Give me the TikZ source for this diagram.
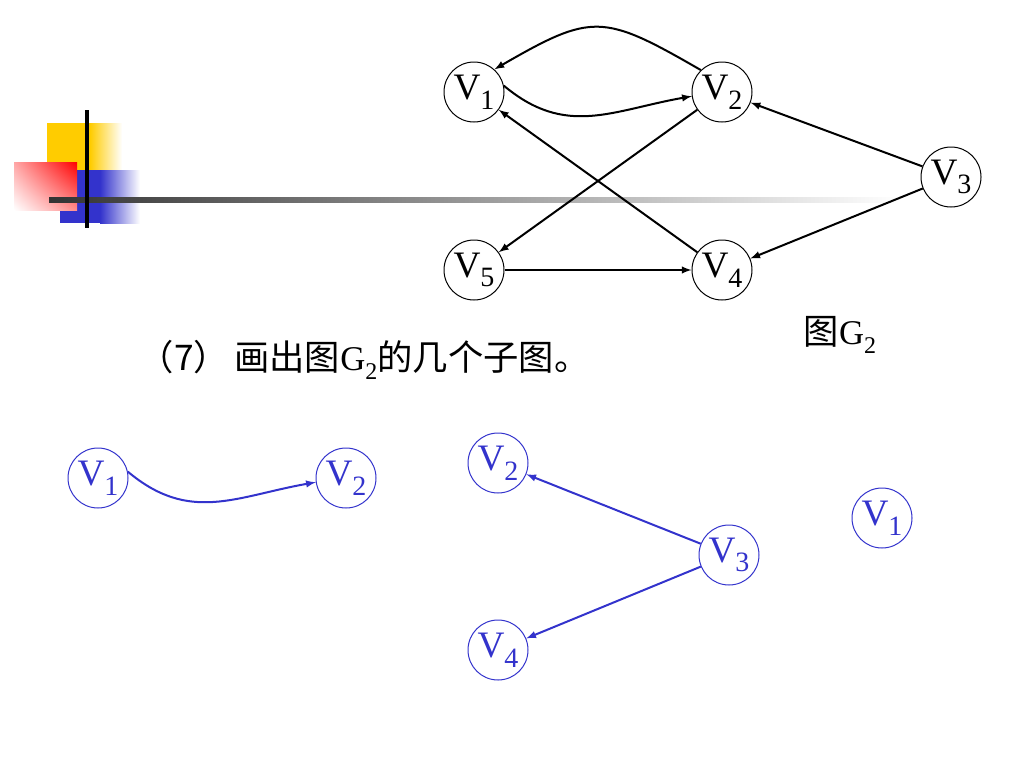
\documentclass[tikz,border=0pt]{standalone}
\usepackage{fontspec}
\setmainfont{Liberation Serif}
\newfontfamily\cjk{Noto Sans CJK SC}
\usetikzlibrary{arrows,shadings}

\definecolor{deckyellow}{RGB}{255,204,0}
\definecolor{deckblue}{RGB}{51,51,204}
\definecolor{subblue}{RGB}{51,51,204}

\newcommand{\vname}[1]{V\raisebox{-0.26em}{\fontsize{21}{21}\selectfont #1}}
\newcommand{\gname}{G\raisebox{-0.28em}{\fontsize{18}{18}\selectfont 2}}
\newcommand{\cjktext}[1]{{\cjk\fontsize{26.5}{28}\selectfont #1}}

\tikzset{
  vert/.style={circle,draw,line width=0.75pt,minimum size=45pt,inner sep=0pt,font=\fontsize{28}{28}\selectfont},
  edge/.style={-latex,line width=1.5pt},
  subvert/.style={vert,draw=subblue,text=subblue},
  subedge/.style={edge,color=subblue}
}

\begin{document}
\begin{tikzpicture}[x=0.75pt,y=0.75pt]
\useasboundingbox (0,0) rectangle (1024,-768);
% corner mark
\fill[deckyellow] (47,-123) rectangle (90,-200);
\shade[left color=deckyellow,right color=white] (90,-123) rectangle (122,-200);
\fill[deckblue] (60,-170) rectangle (100,-223);
\shade[left color=deckblue,right color=white] (100,-170) rectangle (140,-223);
\shade[upper left=red!35,upper right=red,lower left=white,lower right=red!45] (14,-162) rectangle (77,-210);
\shade[left color=black!80,right color=white] (49,-197.5) rectangle (900,-202.5);
\draw[line width=3pt] (87,-110) -- (87,-228);

% graph G2
\node[vert] (v1) at (474,-92) {\vname{1}};
\node[vert] (v2) at (722,-92) {\vname{2}};
\node[vert] (v3) at (951,-177) {\vname{3}};
\node[vert] (v4) at (722,-270) {\vname{4}};
\node[vert] (v5) at (474,-270) {\vname{5}};
\draw[edge] (v1.12) to[out=-40,in=190,looseness=1.1] (v2.188);
\draw[edge] (v2.134) to[out=150,in=30,looseness=1.4] (v1.48);
\draw[edge] (v3) -- (v2);
\draw[edge] (v3) -- (v4);
\draw[edge] (v2) -- (v5);
\draw[edge] (v4) -- (v1);
\draw[edge] (v5) -- (v4);
\node[font=\fontsize{26}{28}\selectfont] (gcap) at (840,-335) {\cjktext{图}\gname};

\node[anchor=west,font=\fontsize{26}{28}\selectfont] (task) at (134,-360)
  {\cjktext{（7）\hspace{4pt}画出图}\gname\cjktext{的几个子图。}};

% subgraphs
\node[subvert] (a1) at (98,-478) {\vname{1}};
\node[subvert] (a2) at (346,-478) {\vname{2}};
\draw[subedge] (a1.12) to[out=-40,in=190,looseness=1.1] (a2.188);

\node[subvert] (b2) at (498,-463) {\vname{2}};
\node[subvert] (b3) at (729,-555) {\vname{3}};
\node[subvert] (b4) at (498,-650) {\vname{4}};
\draw[subedge] (b3) -- (b2);
\draw[subedge] (b3) -- (b4);

\node[subvert] (c1) at (882,-518) {\vname{1}};
\end{tikzpicture}
\end{document}
